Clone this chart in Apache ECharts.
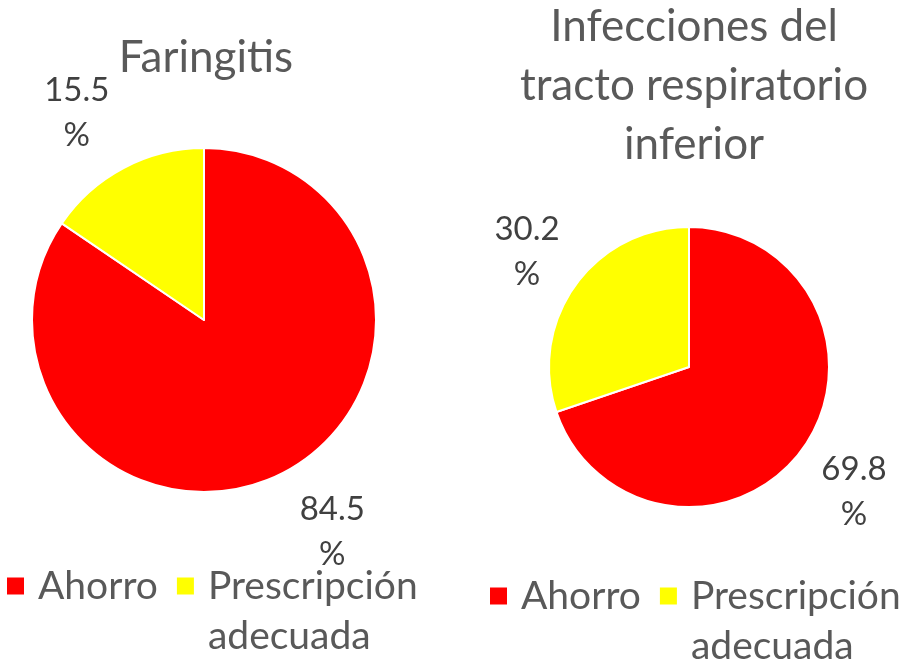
<!DOCTYPE html>
<html>
<head>
<meta charset="utf-8">
<script src="https://cdn.jsdelivr.net/npm/echarts@6/dist/echarts.min.js"></script>
<style>
  html, body { margin: 0; padding: 0; background: #fff; }
  #tu1 { width: 908px; height: 665px; }
</style>
</head>
<body>
<div id="tu1"></div>
<script>
// datos
var categorias = ['Ahorro', 'Prescripción adecuada'];
var faringitis = [84.5, 15.5];
var respiratorio = [69.8, 30.2];
var titulos = ['Faringitis', 'Infecciones del\ntracto respiratorio\ninferior'];
var colores = ['#FF0000', '#FFFF00'];

var myChart1 = echarts.init(document.getElementById('tu1'));

function toData(vals) {
    return vals.map(function (v, i) {
        return { value: v, name: categorias[i] };
    });
}

var labelCfg = {
    show: true,
    position: 'outside',
    formatter: '{c}\n%',
    fontFamily: 'Lato',
    fontSize: 33,
    lineHeight: 45,
    color: '#404040',
    distanceToLabelLine: 0,
    overflow: 'none'
};

// ajuste fino de las etiquetas [dx, dy] por serie / dato
var ajustes = [[[15, -2], [-14, 7]], [[0, 7], [3, 3]]];

function legendCfg(left, top) {
    return {
        left: left,
        top: top,
        orient: 'horizontal',
        padding: 0,
        itemWidth: 19,
        itemHeight: 19,
        itemGap: 17,
        icon: 'rect',
        textStyle: {
            fontFamily: 'Lato',
            fontSize: 39,
            lineHeight: 50,
            color: '#595959',
            padding: [0, 0, 0, 8]
        },
        formatter: function (name) {
            // primera linea alineada con el icono
            return name.indexOf(' ') > 0 ? ' \n' + name.replace(' ', '\n') : name;
        },
        data: categorias
    };
}

function layoutFn(p) {
    var a = ajustes[p.seriesIndex][p.dataIndex];
    return { align: 'center', verticalAlign: 'middle', dx: a[0], dy: a[1] };
}

var option1 = {
    animation: false,
    color: colores,
    title: [{
        text: titulos[0],
        left: 201,
        top: 23,
        textAlign: 'center',
        textStyle: { fontFamily: 'Lato', fontSize: 44, fontWeight: 'normal', color: '#595959', lineHeight: 59 }
    }, {
        text: titulos[1],
        left: 689,
        top: -8,
        textAlign: 'center',
        textStyle: { fontFamily: 'Lato', fontSize: 44, fontWeight: 'normal', color: '#595959', lineHeight: 59 }
    }],
    legend: [legendCfg(5, 511), legendCfg(488, 521)],
    series: [{
        type: 'pie',
        center: [204, 320],
        radius: 172,
        startAngle: 90,
        clockwise: true,
        itemStyle: { borderColor: '#fff', borderWidth: 2 },
        label: labelCfg,
        labelLine: { show: false, length: 70, length2: 0 },
        labelLayout: layoutFn,
        emphasis: { disabled: true },
        data: toData(faringitis)
    }, {
        type: 'pie',
        center: [689, 367],
        radius: 140,
        startAngle: 90,
        clockwise: true,
        itemStyle: { borderColor: '#fff', borderWidth: 2 },
        label: labelCfg,
        labelLine: { show: false, length: 63, length2: 0 },
        labelLayout: layoutFn,
        emphasis: { disabled: true },
        data: toData(respiratorio)
    }]
};

myChart1.setOption(option1);
</script>
</body>
</html>
